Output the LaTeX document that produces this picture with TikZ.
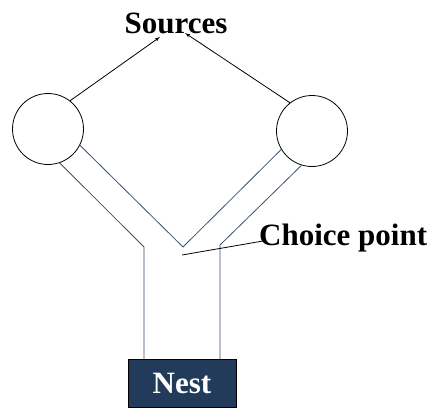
\documentclass[tikz,border=0pt]{standalone}
\usepackage{fontspec}
\setmainfont{Liberation Serif}
\usetikzlibrary{arrows,shapes,positioning}

\definecolor{navy}{HTML}{223B5A}
\definecolor{trail}{HTML}{3A5073}

\begin{document}
\begin{tikzpicture}[x=1pt,y=-1pt]
  \tikzset{
    label/.style={
      inner sep=0pt,
      font=\bfseries\fontsize{31}{36}\selectfont
    },
    site/.style={
      draw,
      thick,
      circle,
      minimum size=71pt,
      inner sep=0pt
    },
    line/.style={
      draw,
      thick,
      -latex'
    },
    channel/.style={
      draw=trail,
      thick
    }
  }
  \useasboundingbox (0,0) rectangle (431,407);

  \node[label, anchor=base] (sources) at (176,33) {Sources};
  \node[site] (left) at (48,129) {};
  \node[site] (right) at (312,131) {};
  \node[label, draw=black, fill=navy, text=white, minimum width=108pt,
        minimum height=48pt] (nest) at (182,383) {Nest};
  \node[label, anchor=base west] (choice) at (259,245) {Choice point};

  % bends of the trail
  \coordinate (lknee) at (144,247);
  \coordinate (rknee) at (220,245);
  \coordinate (apex) at (183,247);
  \coordinate (fork) at (182,255);

  \path[line] (left.52) -- (160,37);
  \path[line] (right.128) -- (185,33);

  \draw[channel] (left.-71) -- (lknee) -- (nest.north -| lknee);
  \draw[channel] (left.-27) -- (apex) -- (right.-149);
  \draw[channel] (right.-107) -- (rknee) -- (nest.north -| rknee);

  \draw[thick] (fork) -- ([shift={(4,-4)}]choice.base west);
\end{tikzpicture}
\end{document}
